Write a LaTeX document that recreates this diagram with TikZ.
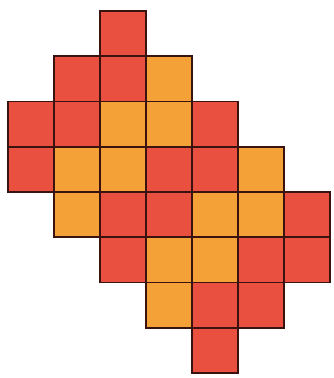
\documentclass[tikz,border=0pt]{standalone}
\begin{document}
\begin{tikzpicture}[x=1pt,y=-1pt,
  cellred/.style={fill=redc},
  cellorg/.style={fill=orgc},
  cell/.style={draw=edgec, line width=1.6pt, minimum width=46pt, minimum height=45.25pt, inner sep=0pt, outer sep=0pt}]
\definecolor{redc}{HTML}{E9503F}
\definecolor{orgc}{HTML}{F4A238}
\definecolor{edgec}{HTML}{3A1210}
\useasboundingbox (0,0) rectangle (333,378);
\foreach \c/\r/\k in {2/0/red,
  1/1/red,2/1/red,3/1/org,
  0/2/red,1/2/red,2/2/org,3/2/org,4/2/red,
  0/3/red,1/3/org,2/3/org,3/3/red,4/3/red,5/3/org,
  1/4/org,2/4/red,3/4/red,4/4/org,5/4/org,6/4/red,
  2/5/red,3/5/org,4/5/org,5/5/red,6/5/red,
  3/6/org,4/6/red,5/6/red,
  4/7/red}{
  \node[cell, cell\k] (c\c-\r) at ({31+46*\c},{33.6+45.25*\r}) {};
}
\end{tikzpicture}
\end{document}
